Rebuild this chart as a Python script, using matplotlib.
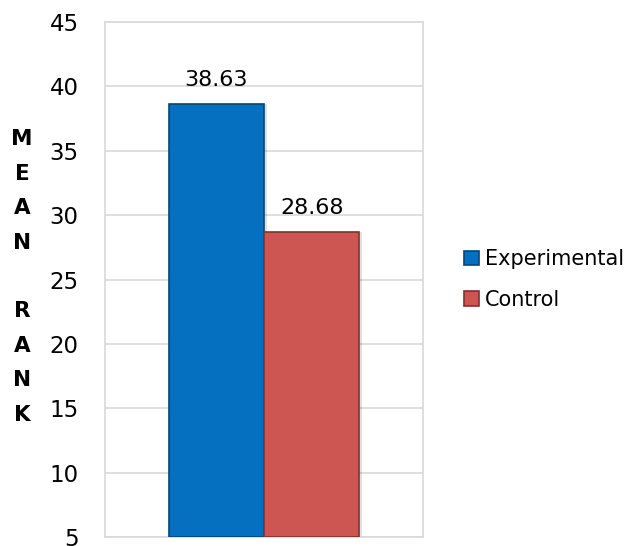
import matplotlib

matplotlib.use("Agg")
from matplotlib import pyplot as plt

groups = ["Experimental", "Control"]
mean_rank = [38.63, 28.68]
colors = ["#0570c0", "#cd5653"]
edges = ["#03467a", "#7e3230"]
yticks = [5, 10, 15, 20, 25, 30, 35, 40, 45]

plt.rcParams["font.family"] = "DejaVu Sans"

fig = plt.figure(figsize=(6.4, 5.46), dpi=100)
ax = fig.add_axes([0.164, 0.0165, 0.497, 0.943])

width = 0.3
offsets = [-0.15, 0.15]
for name, val, c, e, off in zip(groups, mean_rank, colors, edges, offsets):
    # soft shadow behind each bar
    ax.bar(off + 0.008, val - 5, width, bottom=5, color="#000000", alpha=0.12, zorder=2)
    ax.bar(off, val - 5, width, bottom=5, color=c, edgecolor=e, linewidth=1.2,
           label=name, zorder=3)
    ax.text(off, val + 1.1, f"{val:.2f}", ha="center", va="bottom", fontsize=16)

ax.set_xlim(-0.5, 0.5)
ax.set_ylim(5, 45)
ax.set_yticks(yticks)
ax.set_xticks([])
ax.tick_params(axis="y", length=0, pad=19, labelsize=16.5)
ax.grid(axis="y", color="#d9d9d9", linewidth=1.2, zorder=0)
ax.set_axisbelow(True)
for s in ax.spines.values():
    s.set_color("#d9d9d9")
    s.set_linewidth(1.2)

fig.text(22 / 640, 1 - 277 / 546, "M\nE\nA\nN\n\nR\nA\nN\nK", ha="center", va="center",
         fontsize=15.5, fontweight="bold", linespacing=1.9)

ax.legend(loc="center left", bbox_to_anchor=(1.07, 0.5), frameon=False, fontsize=15,
          handlelength=0.7, handleheight=0.7, handletextpad=0.3, labelspacing=1.0)

fig.savefig("out.png", dpi=100)
